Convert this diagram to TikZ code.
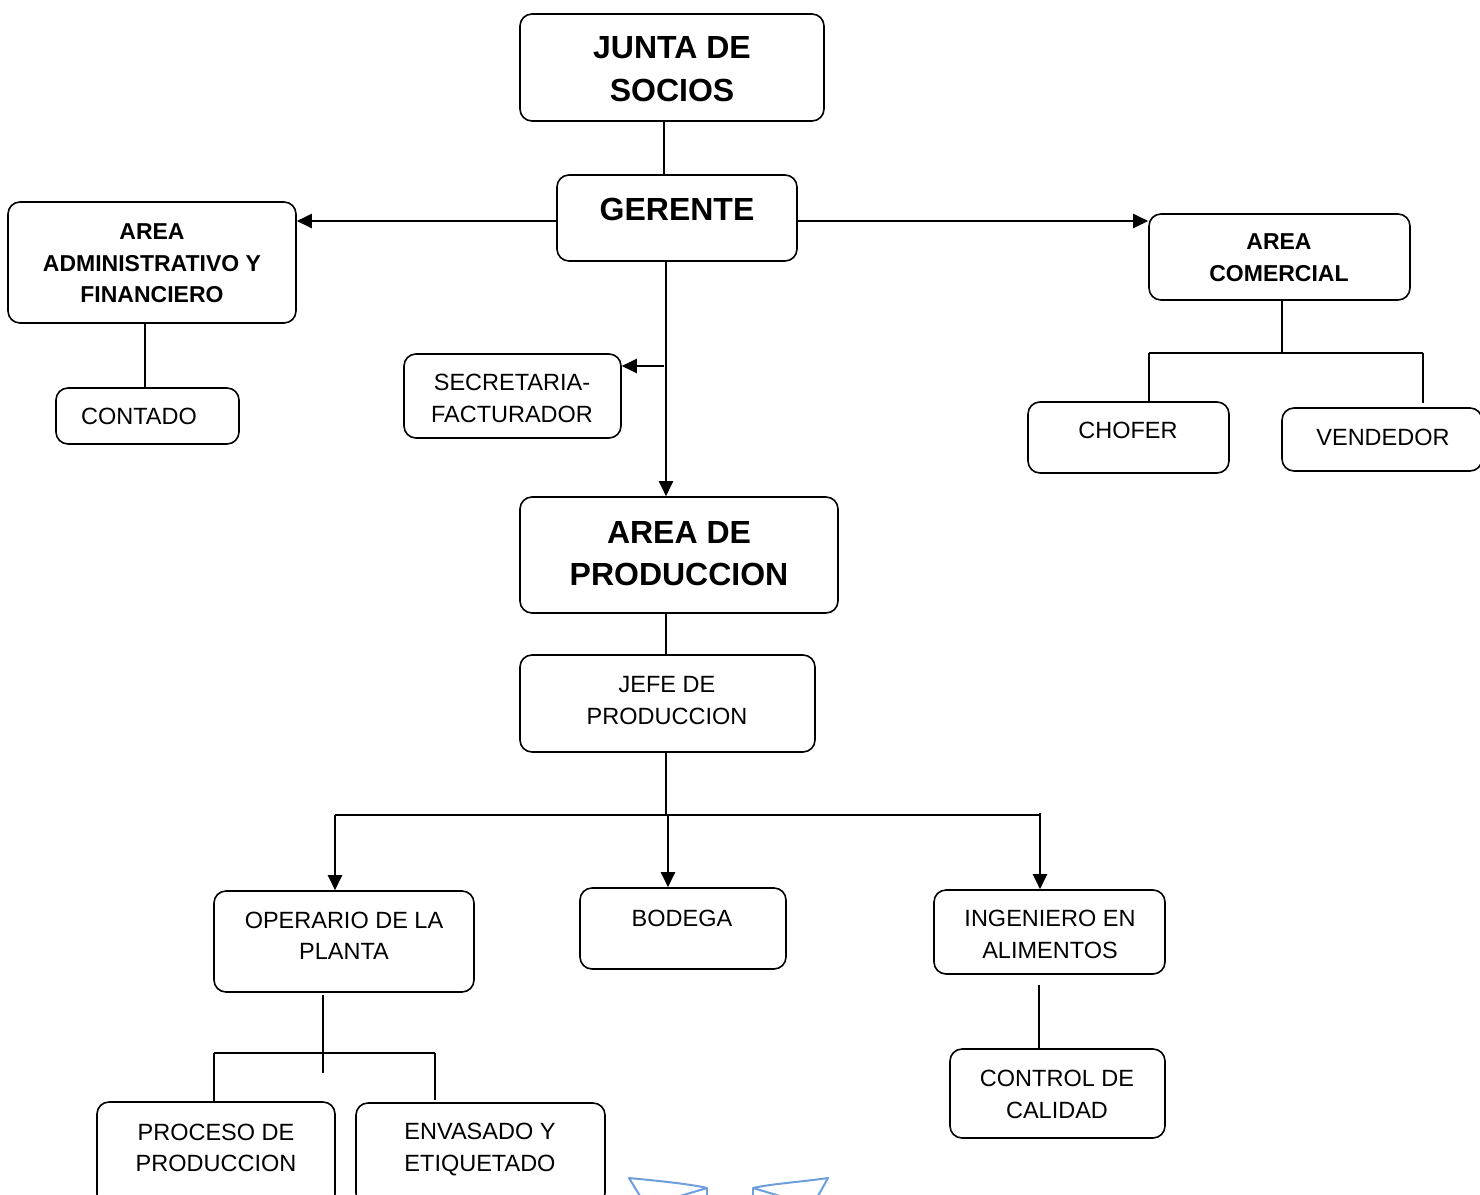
\documentclass[tikz,border=0pt]{standalone}
\usepackage{fontspec}
\setmainfont{Liberation Sans}
\usetikzlibrary{arrows.meta}
\definecolor{decoblue}{RGB}{110,158,222}
\begin{document}
\begin{tikzpicture}[x=1pt,y=-1pt,
  box/.style={draw,line width=1.6pt,rounded corners=12pt,inner sep=0pt},
  big/.style={font=\fontsize{32}{42.5}\selectfont\bfseries,align=center,inner sep=0pt},
  sbold/.style={font=\fontsize{23}{31.5}\selectfont\bfseries,align=center,inner sep=0pt},
  reg/.style={font=\fontsize{23.5}{31.5}\selectfont,align=center,inner sep=0pt},
  conn/.style={line width=1.5pt},
  arr/.style={line width=2.2pt,-{Triangle[length=15pt,width=14pt]}},
  deco/.style={draw=decoblue,line width=2pt}]
\useasboundingbox (0,0) rectangle (1480,1194);
\clip (0,0) rectangle (1480,1194);
\fill[white] (0,0) rectangle (1480,1194);

% boxes
\node[box,minimum width=304pt,minimum height=107pt] (junta) at (672,67.5) {};
\node[box,minimum width=240pt,minimum height=86pt] (ger) at (677,218) {};
\node[box,minimum width=288pt,minimum height=121pt] (adm) at (152,262.5) {};
\node[box,minimum width=183pt,minimum height=56pt] (cont) at (147.5,416) {};
\node[box,minimum width=217pt,minimum height=84pt] (sec) at (512.5,396) {};
\node[box,minimum width=261pt,minimum height=86pt] (com) at (1279.5,257) {};
\node[box,minimum width=201pt,minimum height=71pt] (cho) at (1128.5,437.5) {};
\node[box,minimum width=200pt,minimum height=63pt] (ven) at (1382,439.5) {};
\node[box,minimum width=318pt,minimum height=116pt] (prod) at (679,555) {};
\node[box,minimum width=295pt,minimum height=97pt] (jefe) at (667.5,703.5) {};
\node[box,minimum width=260pt,minimum height=101pt] (ope) at (344,941.5) {};
\node[box,minimum width=206pt,minimum height=81pt] (bod) at (683,928.5) {};
\node[box,minimum width=231pt,minimum height=84pt] (ing) at (1049.5,932) {};
\node[box,minimum width=215pt,minimum height=89pt] (ctl) at (1057.5,1093.5) {};
\node[box,minimum width=238pt,minimum height=104pt] (proc) at (216,1154) {};
\node[box,minimum width=249pt,minimum height=102pt] (env) at (480.5,1154) {};

% texts
\node[big] (juntaT) at (672,69) {JUNTA DE\\SOCIOS};
\node[big] (gerT) at (677,209) {GERENTE};
\node[sbold] (admT) at (152,263.5) {AREA\\ADMINISTRATIVO Y\\FINANCIERO};
\node[reg] (contT) at (139,416) {CONTADO};
\node[reg] (secT) at (512,398.5) {SECRETARIA-\\FACTURADOR};
\node[sbold] (comT) at (1279,257.5) {AREA\\COMERCIAL};
\node[reg] (choT) at (1128,430) {CHOFER};
\node[reg] (venT) at (1383,437) {VENDEDOR};
\node[big] (prodT) at (679,553.5) {AREA DE\\PRODUCCION};
\node[reg] (jefeT) at (667,700.5) {JEFE DE\\PRODUCCION};
\node[reg] (opeT) at (344,936) {OPERARIO DE LA\\PLANTA};
\node[reg] (bodT) at (682,918) {BODEGA};
\node[reg] (ingT) at (1050,934.5) {INGENIERO EN\\ALIMENTOS};
\node[reg] (ctlT) at (1057,1094.5) {CONTROL DE\\CALIDAD};
\node[reg] (procT) at (216,1148) {PROCESO DE\\PRODUCCION};
\node[reg] (envT) at (480,1149.5) {ENVASADO Y\\ETIQUETADO};

% coordinates
\coordinate (secJ) at (664,366);
\coordinate (comJ) at (1282,353);
\coordinate (choJ) at (1149,353);
\coordinate (venJ) at (1423,353);
\coordinate (venE) at (1423,403);
\coordinate (jefeJ) at (666,815);
\coordinate (opeJ) at (335,815);
\coordinate (bodJ) at (668,815);
\coordinate (ingJ) at (1040,813);
\coordinate (ingE) at (1039,985);
\coordinate (opeS) at (323,995);
\coordinate (opeM) at (323,1073);
\coordinate (procJ) at (214,1053);
\coordinate (envJ) at (435,1053);
\coordinate (envE) at (435,1100);

% connectors
\draw[conn] (junta.south -| 664,0) -- (ger.north -| 664,0);
\draw[arr] (ger.west |- 0,221) -- (adm.east |- 0,221);
\draw[arr] (ger.east |- 0,221) -- (com.west |- 0,221);
\draw[arr] (ger.south -| 666,0) -- (prod.north -| 666,0);
\draw[arr] (secJ) -- (sec.east |- secJ);
\draw[conn] (adm.south -| 145,0) -- (cont.north -| 145,0);
\draw[conn] (com.south -| comJ) -- (comJ);
\draw[conn] (choJ) -- (venJ);
\draw[conn] (choJ) -- (cho.north -| choJ);
\draw[conn] (venJ) -- (venE);
\draw[conn] (prod.south -| 666,0) -- (jefe.north -| 666,0);
\draw[conn] (jefe.south -| jefeJ) -- (jefeJ);
\draw[conn,line width=2pt] (opeJ) -- (ingJ |- opeJ);
\draw[conn,line width=2pt] (ingJ |- opeJ) -- (ingJ);
\draw[arr] (opeJ) -- (ope.north -| opeJ);
\draw[arr] (bodJ) -- (bod.north -| bodJ);
\draw[arr] (ingJ) -- (ing.north -| ingJ);
\draw[conn] (ingE) -- (ctl.north -| ingE);
\draw[conn] (opeS) -- (opeM);
\draw[conn] (procJ) -- (envJ);
\draw[conn] (procJ) -- (proc.north -| procJ);
\draw[conn] (envJ) -- (envE);

% decorative blue marks at the bottom
\draw[deco,line join=round] (640,1196) -- (629,1178) .. controls (660,1181) and (690,1184) .. (707,1188) -- (680,1196);
\draw[deco] (707,1188) -- (707,1196);
\draw[deco,line join=round] (818,1196) -- (828,1178) .. controls (800,1182) and (770,1184) .. (753,1188) -- (780,1196);
\draw[deco] (753,1188) -- (753,1196);
\end{tikzpicture}
\end{document}
